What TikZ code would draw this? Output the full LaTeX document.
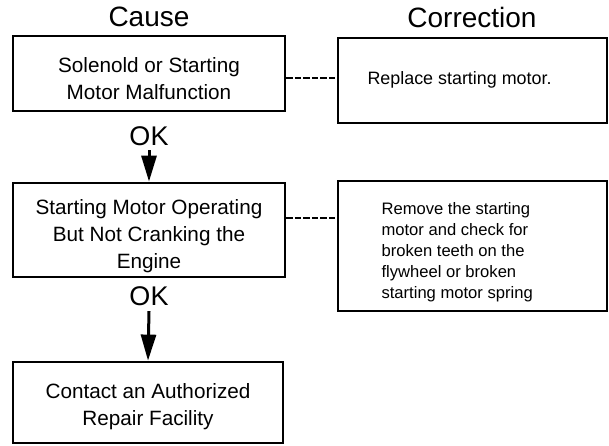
\documentclass[tikz,border=0pt]{standalone}
\usepackage{fontspec}
\setmainfont{Liberation Sans}
\usetikzlibrary{arrows.meta}
\begin{document}
\begin{tikzpicture}[x=1pt,y=-1pt,
  boxline/.style={line width=2.8pt},
  causebox/.style={boxline,draw,minimum width=272pt,inner sep=0pt},
  causetext/.style={align=center,inner sep=0pt,font=\fontsize{20.7}{27}\selectfont},
  corrbox/.style={boxline,draw,minimum width=269pt,inner sep=0pt},
  head/.style={font=\fontsize{28}{30}\selectfont},
  oklabel/.style={font=\fontsize{27}{29}\selectfont},
  dashlink/.style={line width=2.4pt,dash pattern=on 6.5pt off 2pt},
  okarrow/.style={line width=3pt,-{Triangle[length=26pt,width=15pt]}}
]
\useasboundingbox (0,0) rectangle (609,446);
% headers
\node[head] (hcause) at (149,17) {Cause};
\node[head] (hcorr) at (472,17) {Correction};
% boxes
\node[causebox,minimum height=75pt] (b1) at (149,73.5) {};
\node[causetext] (b1t) at (149,79) {Solenold or Starting\\Motor Malfunction};
\node[corrbox,minimum height=85pt] (c1) at (472.5,80.5) {};
\node[font=\fontsize{17.9}{21}\selectfont,anchor=west] (t1) at (364,80) {Replace starting motor.};
\node[causebox,minimum height=94pt] (b2) at (149,230) {};
\node[causetext] (b2t) at (149,236) {Starting Motor Operating\\But Not Cranking the\\Engine};
\node[corrbox,minimum height=130pt] (c2) at (472.5,246) {};
\node[font=\fontsize{16.6}{21}\selectfont,align=left,anchor=west] (t2) at (378,252) {Remove the starting\\motor and check for\\broken teeth on the\\flywheel or broken\\starting motor spring};
\node[causebox,minimum height=81pt,minimum width=270pt] (b3) at (148,402.5) {};
\node[causetext] (b3t) at (148,407) {Contact an Authorized\\Repair Facility};
% OK labels
\node[oklabel] (ok1) at (149,136) {OK};
\node[oklabel] (ok2) at (149,296) {OK};
% dashed links
\coordinate (d1a) at (b1.east |- 0,78);
\coordinate (d1b) at (c1.west |- 0,78);
\draw[dashlink] (d1a) -- (d1b);
\coordinate (d2a) at (b2.east |- 0,218);
\coordinate (d2b) at (c2.west |- 0,218);
\draw[dashlink] (d2a) -- (d2b);
% arrows
\draw[okarrow] (ok1.south) ++(0,1) -- (b2.north);
\draw[okarrow] (ok2.south) ++(0,2) -- (b3.north);
\end{tikzpicture}
\end{document}
